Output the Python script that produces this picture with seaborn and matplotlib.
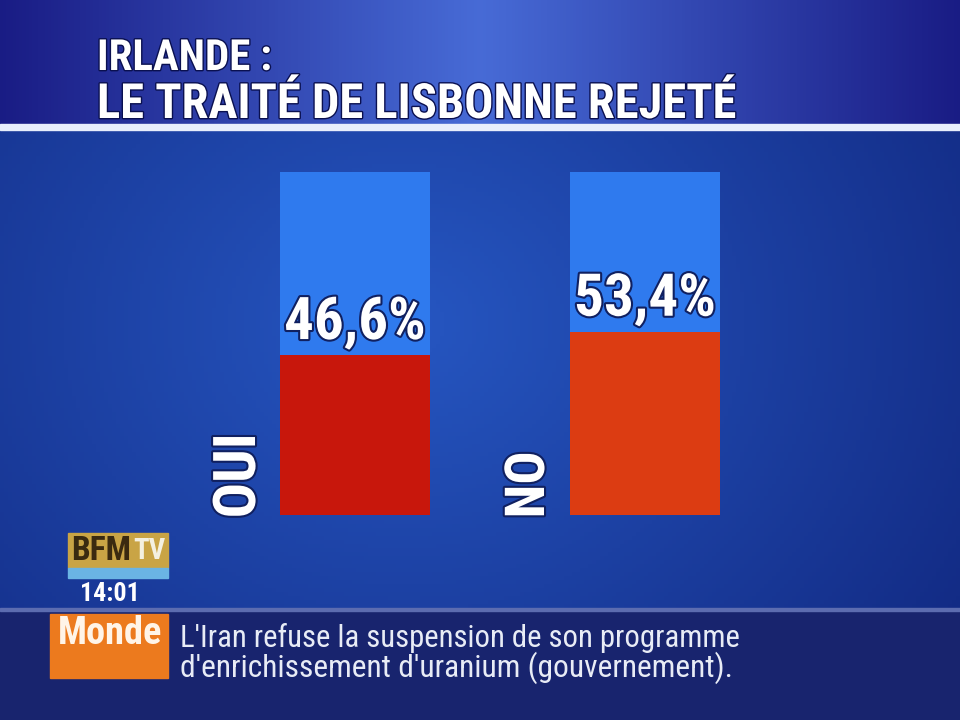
import numpy as np
import pandas as pd
import seaborn as sns
import matplotlib.pyplot as plt
import matplotlib.patheffects as pe
from matplotlib.patches import Rectangle
from matplotlib import font_manager as fm

# Data
categories = ["OUI", "NO"]
results = [46.6, 53.4]
bar_colors = ["#c8170c", "#dc3c12"]
title_lines = ["IRLANDE :", "LE TRAITÉ DE LISBONNE REJETÉ"]
ticker_tag = "Monde"
ticker_lines = ["L'Iran refuse la suspension de son programme",
                "d'enrichissement d'uranium (gouvernement)."]
clock = "14:01"

sns.set_style("white")


# look for a narrow font, the TV graphics use a condensed face
def pick_narrow():
    prefs = ["Liberation Sans Narrow", "Roboto Condensed", "Open Sans Condensed",
             "Noto Sans Condensed", "DejaVu Sans Condensed"]
    names = {f.name for f in fm.fontManager.ttflist}
    for p in prefs:
        if p in names:
            return [p, 'DejaVu Sans']
    return ['Liberation Sans', 'DejaVu Sans']


narrow = pick_narrow()
plt.rcParams['font.family'] = narrow

fig = plt.figure(figsize=(9.6, 7.2), dpi=100)
renderer = fig.canvas.get_renderer()


def fit(txt, width_px=None, height_px=None):
    bb = txt.get_window_extent(renderer)
    if width_px is not None:
        txt.set_fontsize(txt.get_fontsize() * width_px / bb.width)
    else:
        txt.set_fontsize(txt.get_fontsize() * height_px / bb.height)


# background in pixel coordinates
bg = fig.add_axes([0, 0, 1, 1])
bg.set_xlim(0, 960)
bg.set_ylim(720, 0)
bg.axis('off')

xx, yy = np.meshgrid(np.linspace(0, 1, 240), np.linspace(0, 1, 180))
r = np.sqrt(((xx - 0.42) / 0.8) ** 2 + ((yy - 0.45) / 0.9) ** 2)
c_in = np.array([0.15, 0.34, 0.76])
c_out = np.array([0.06, 0.14, 0.48])
t = np.clip(r, 0, 1)[..., None]
img = c_in * (1 - t) + c_out * t
bg.imshow(img, extent=[0, 960, 720, 0], aspect='auto', zorder=0)

# title band
tx = np.linspace(0, 1, 300)
band = np.clip(np.abs(tx - 0.5) / 0.5, 0, 1)
tcol = np.array([0.28, 0.42, 0.84]) * (1 - band[:, None]) + np.array([0.10, 0.11, 0.52]) * band[:, None]
bg.imshow(tcol[None, :, :], extent=[0, 960, 124, 0], aspect='auto', zorder=1)
bg.add_patch(Rectangle((0, 124), 960, 6, color="#e8eefc", zorder=2))

title_widths = [175, 640]
for i, line in enumerate(title_lines):
    tt = bg.text(97, 70 + i * 48, line, color="white", fontsize=35, fontweight='bold',
                 va='baseline', ha='left', zorder=3,
                 path_effects=[pe.withStroke(linewidth=2, foreground="#0a1050")])
    fit(tt, width_px=title_widths[i])

# bars
ax = fig.add_axes([210 / 960, (720 - 515) / 720, 580 / 960, 343 / 720])
ax.patch.set_alpha(0)
df = pd.DataFrame({"choix": categories, "pct": results})
sns.barplot(data=df.assign(full=100), x="choix", y="full", color="#2f7aee",
            width=0.52, saturation=1, linewidth=0, ax=ax, zorder=1)
sns.barplot(data=df, x="choix", y="pct", hue="choix", palette=bar_colors,
            width=0.52, saturation=1, linewidth=0, legend=False, ax=ax, zorder=2)
ax.set_xlim(-0.5, 1.5)
ax.set_ylim(0, 100)
ax.axis('off')

label_heights = [85, 67]
for i, (cat, v) in enumerate(zip(categories, results)):
    pt = ax.text(i, v + 1.2, f"{v:.1f}%".replace('.', ','), ha='center', va='bottom',
                 color="white", fontsize=42, fontweight='bold', zorder=4,
                 path_effects=[pe.withStroke(linewidth=3, foreground="#102060")])
    fit(pt, width_px=142)
    lt = ax.text(i - 0.40, -1.0, cat, rotation=90, ha='center', va='bottom',
                 color="white", fontsize=30, fontweight='bold', zorder=4,
                 path_effects=[pe.withStroke(linewidth=3, foreground="#102060")])
    fit(lt, height_px=label_heights[i])

# channel logo and clock
bg.add_patch(Rectangle((68, 533), 100, 35, color="#c9a445", zorder=2))
b1 = bg.text(71, 551, "BFM", color="#3a2a10", fontsize=19, fontweight='bold', va='center', zorder=3)
fit(b1, width_px=60)
b2 = bg.text(133, 551, "TV", color="#f4f0e0", fontsize=19, fontweight='bold', va='center', zorder=3)
fit(b2, width_px=32)
bg.add_patch(Rectangle((68, 568), 100, 10, color="#6ab4e4", zorder=2))
ck = bg.text(110, 594, clock, color="white", fontsize=17, fontweight='bold',
             ha='center', va='center', zorder=3)
fit(ck, width_px=60)

# ticker
bg.add_patch(Rectangle((0, 610), 960, 110, color="#18246e", zorder=2))
bg.add_patch(Rectangle((0, 608), 960, 3, color="#5c6cb0", zorder=2))
bg.add_patch(Rectangle((50, 614), 118, 64, color="#ec7a1e", zorder=3))
mt = bg.text(58, 634, ticker_tag, color="#fff4e8", fontsize=18, fontweight='bold',
             va='center', ha='left', zorder=4)
fit(mt, width_px=104)
tick_widths = [560, 555]
for i, line in enumerate(ticker_lines):
    lt = bg.text(180, 638 + i * 30, line, color="#e8ecf6", fontsize=19,
                 va='center', ha='left', zorder=4)
    fit(lt, width_px=tick_widths[i])

fig.savefig("out.png", dpi=100)
